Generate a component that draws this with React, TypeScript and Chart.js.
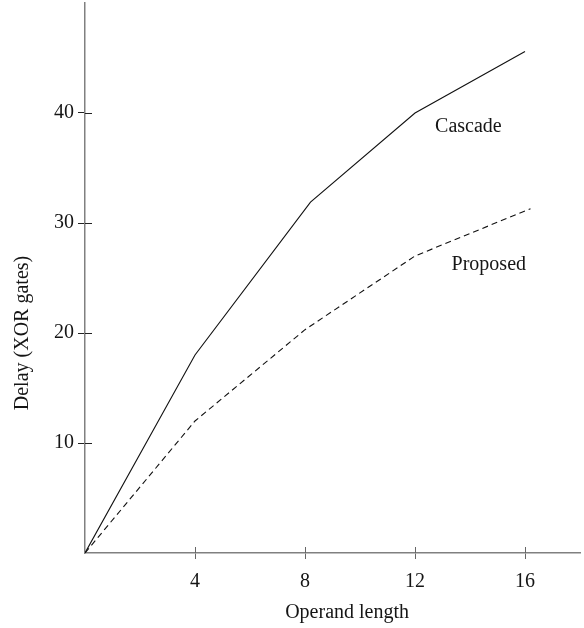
import React, { useEffect, useRef } from "react";
import { Chart, registerables } from "chart.js";

Chart.register(...registerables);

// Operand length (x) and delay in XOR gates (y)
const cascadeX = [0, 4, 8.2, 12, 16];
const cascadeY = [0, 18, 31.9, 40, 45.6];
const proposedX = [0, 4, 8, 12, 16.2];
const proposedY = [0, 12, 20.3, 27, 31.3];

const xTicks = [4, 8, 12, 16];
const yTicks = [10, 20, 30, 40];
const xRange = [0, 18];
const yRange = [0, 50];

const seriesNames = ["Cascade", "Proposed"];
// label anchors in data units (left edge, baseline)
const labelX = [12.73, 13.33];
const labelY = [38.24, 25.75];

const xTitle = "Operand length";
const yTitle = "Delay (XOR gates)";

const FONT = "'Liberation Serif', 'Times New Roman', serif";
const TEXT = "#151515";

const decorPlugin = {
  id: "decor",
  afterDraw(chart: any) {
    const ctx = chart.ctx;
    const xs = chart.scales.x;
    const ys = chart.scales.y;
    const area = chart.chartArea;
    ctx.save();
    // inner halves of tick marks
    ctx.lineWidth = 1;
    ctx.strokeStyle = "#222";
    yTicks.forEach((v) => {
      const py = Math.round(ys.getPixelForValue(v)) + 0.5;
      ctx.beginPath();
      ctx.moveTo(area.left, py);
      ctx.lineTo(area.left + 7, py);
      ctx.stroke();
    });
    ctx.strokeStyle = "#666";
    xTicks.forEach((v) => {
      const px = Math.round(xs.getPixelForValue(v)) + 0.5;
      ctx.beginPath();
      ctx.moveTo(px, area.bottom);
      ctx.lineTo(px, area.bottom - 6);
      ctx.stroke();
    });
    // series labels
    ctx.fillStyle = TEXT;
    ctx.font = `20px ${FONT}`;
    ctx.textAlign = "left";
    ctx.textBaseline = "alphabetic";
    seriesNames.forEach((n, i) => {
      ctx.fillText(n, xs.getPixelForValue(labelX[i]), ys.getPixelForValue(labelY[i]));
    });
    // x title
    ctx.textAlign = "center";
    ctx.fillText(xTitle, xs.getPixelForValue(9.53), 618);
    // y title
    ctx.translate(28, ys.getPixelForValue(20));
    ctx.rotate(-Math.PI / 2);
    ctx.fillText(yTitle, 0, 0);
    ctx.restore();
  },
};

export default function App() {
  const ref = useRef<HTMLCanvasElement | null>(null);

  useEffect(() => {
    document.body.style.margin = "0";
    const canvas = ref.current;
    if (!canvas) return;
    const chart = new Chart(canvas, {
      type: "line",
      data: {
        datasets: [
          {
            label: seriesNames[0],
            data: cascadeX.map((x, i) => ({ x, y: cascadeY[i] })),
            borderColor: "#111",
            borderWidth: 1.1,
            pointRadius: 0,
            tension: 0,
            fill: false,
          },
          {
            label: seriesNames[1],
            data: proposedX.map((x, i) => ({ x, y: proposedY[i] })),
            borderColor: "#111",
            borderWidth: 1.1,
            borderDash: [6, 4],
            pointRadius: 0,
            tension: 0,
            fill: false,
          },
        ],
      },
      options: {
        responsive: false,
        animation: false,
        layout: { padding: { top: 3, right: 4, left: 0, bottom: 0 } },
        plugins: {
          legend: { display: false },
          tooltip: { enabled: false },
          title: { display: false },
        },
        scales: {
          x: {
            type: "linear",
            min: xRange[0],
            max: xRange[1],
            afterBuildTicks: (s: any) => {
              s.ticks = xTicks.map((v) => ({ value: v }));
            },
            afterFit: (s: any) => {
              s.height = 75;
              s.paddingLeft = 0;
              s.paddingRight = 0;
            },
            grid: {
              drawOnChartArea: false,
              drawTicks: true,
              tickLength: 6,
              tickColor: "#666",
              tickWidth: 1,
            },
            border: { color: "#808080", width: 1.5 },
            ticks: {
              color: TEXT,
              font: { family: FONT, size: 20 },
              padding: 11,
              maxRotation: 0,
              autoSkip: false,
            },
          },
          y: {
            type: "linear",
            min: yRange[0],
            max: yRange[1],
            afterBuildTicks: (s: any) => {
              s.ticks = yTicks.map((v) => ({ value: v }));
            },
            afterFit: (s: any) => {
              s.width = 85;
              s.paddingTop = 0;
              s.paddingBottom = 0;
            },
            grid: {
              drawOnChartArea: false,
              drawTicks: true,
              tickLength: 7,
              tickColor: "#222",
              tickWidth: 1,
            },
            border: { color: "#808080", width: 1.5 },
            ticks: {
              color: TEXT,
              font: { family: FONT, size: 20 },
              padding: 4,
              autoSkip: false,
            },
          },
        },
      },
      plugins: [decorPlugin],
    } as any);
    return () => chart.destroy();
  }, []);

  return (
    <div style={{ position: "absolute", left: 0, top: 0, width: 584, height: 628, background: "#fff" }}>
      <canvas ref={ref} width={584} height={628} style={{ display: "block" }} />
    </div>
  );
}
